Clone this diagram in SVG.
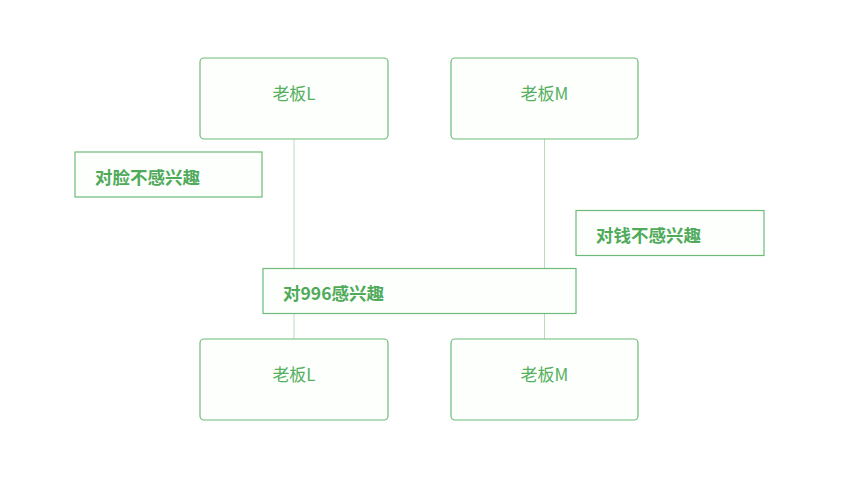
<svg xmlns="http://www.w3.org/2000/svg" width="846" height="480" viewBox="0 0 846 480">
<style>
.actor{fill:#fcfffc;stroke:#6cbb78;stroke-width:1.2}
.note{fill:#fcfffc;stroke:#6cbb78;stroke-width:1.2}
.life{stroke:#b9dcbf;stroke-width:1;fill:none}
.at{font-family:"Noto Sans CJK SC","Liberation Sans",sans-serif;font-size:17px;fill:#56b060;text-anchor:middle}
.nt{font-family:"Noto Sans CJK SC","Liberation Sans",sans-serif;font-size:17.5px;font-weight:bold;fill:#4faa5a}
</style>
<rect width="846" height="480" fill="#ffffff"/>
<g id="connectors">
<line class="life" x1="294" y1="139" x2="294" y2="339"/>
<line class="life" x1="544.5" y1="139" x2="544.5" y2="339"/>
</g>
<g id="actorL-top"><rect class="actor" x="200" y="58" width="188" height="81" rx="4"/><text class="at" x="294" y="100">老板L</text></g>
<g id="actorM-top"><rect class="actor" x="451" y="58" width="187" height="81" rx="4"/><text class="at" x="544.5" y="100">老板M</text></g>
<g id="actorL-bottom"><rect class="actor" x="200" y="339" width="188" height="81" rx="4"/><text class="at" x="294" y="381">老板L</text></g>
<g id="actorM-bottom"><rect class="actor" x="451" y="339" width="187" height="81" rx="4"/><text class="at" x="544.5" y="381">老板M</text></g>
<g id="note1"><rect class="note" x="75" y="152" width="187" height="45"/><text class="nt" x="95" y="184">对脸不感兴趣</text></g>
<g id="note2"><rect class="note" x="576" y="210.5" width="188" height="45"/><text class="nt" x="596" y="242">对钱不感兴趣</text></g>
<g id="note3"><rect class="note" x="263" y="268.5" width="313" height="45"/><text class="nt" x="283" y="300">对996感兴趣</text></g>
</svg>
